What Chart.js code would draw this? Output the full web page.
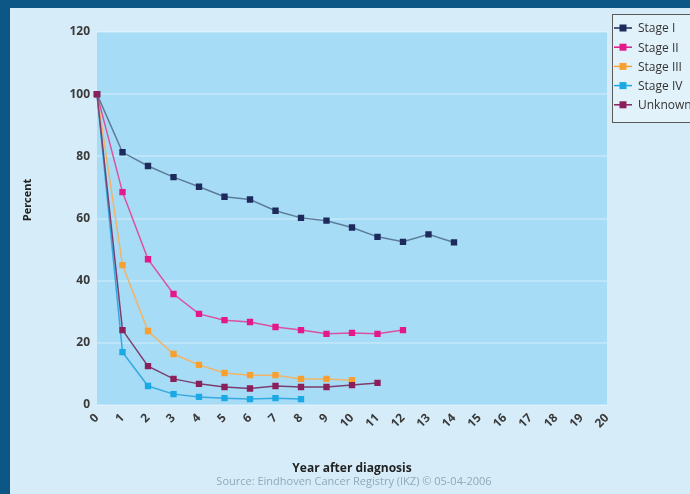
<!DOCTYPE html>
<html>
<head>
<meta charset="utf-8">
<script src="https://cdn.jsdelivr.net/npm/chart.js@4/dist/chart.umd.min.js"></script>
<style>
   html, body { margin: 0; padding: 0; }
   body { width: 690px; height: 494px; background: #0c5786; position: relative; overflow: hidden; }
   #chart { position: absolute; left: 10px; top: 8px; background: #d6edf9; }
</style>
</head>
<body>
<canvas id="chart" width="680" height="486"></canvas>
<script>
const YEARS = ["0", "1", "2", "3", "4", "5", "6", "7", "8", "9", "10", "11", "12", "13", "14", "15", "16", "17", "18", "19", "20"];
const STAGE_I = [100, 81.3, 76.9, 73.3, 70.2, 67.0, 66.1, 62.5, 60.2, 59.3, 57.1, 54.1, 52.5, 54.9, 52.3];
const STAGE_II = [100, 68.5, 46.9, 35.7, 29.3, 27.3, 26.7, 25.1, 24.1, 22.9, 23.2, 22.9, 24.1];
const STAGE_III = [100, 45.0, 23.8, 16.4, 12.9, 10.3, 9.6, 9.6, 8.4, 8.4, 8.0];
const STAGE_IV = [100, 17.0, 6.1, 3.5, 2.6, 2.2, 1.9, 2.2, 1.9];
const UNKNOWN = [100, 24.1, 12.5, 8.4, 6.8, 5.8, 5.3, 6.1, 5.8, 5.8, 6.4, 7.1];
const SERIES_NAMES = ["Stage I", "Stage II", "Stage III", "Stage IV", "Unknown"];
const Y_TITLE = "Percent";
const SOURCE = "Source: Eindhoven Cancer Registry (IKZ) \u00a9 05-04-2006";

const FONT = "'Open Sans', 'Noto Sans', sans-serif";

const makeSet = (label, data, line, mark, order) => ({
   label,
   data,
   borderColor: line,
   borderWidth: 1.5,
   pointStyle: "rect",
   pointRadius: 4.5,
   pointBackgroundColor: mark,
   pointBorderColor: mark,
   pointBorderWidth: 0,
   tension: 0,
   fill: false,
   order,
   markColor: mark,
});

// plot background
const plotBg = {
   id: "plotBg",
   beforeDraw(chart) {
      const { ctx, chartArea: a } = chart;
      ctx.save();
      ctx.fillStyle = "#a7dcf7";
      ctx.fillRect(a.left, a.top, a.right - a.left, a.bottom - a.top);
      ctx.restore();
   },
};

// boxed legend at top right (cut by the right edge like the original), y title and source line
const extras = {
   id: "extras",
   afterDraw(chart) {
      const ctx = chart.ctx;
      ctx.save();
      ctx.fillStyle = "#e2f2fb";
      ctx.strokeStyle = "#5a5a5a";
      ctx.lineWidth = 1;
      ctx.fillRect(602.5, 6.5, 100, 108);
      ctx.strokeRect(602.5, 6.5, 100, 108);
      ctx.font = "12px " + FONT;
      ctx.textBaseline = "middle";
      chart.data.datasets.forEach((ds, i) => {
         const y = 20 + i * 19.2;
         ctx.strokeStyle = ds.markColor;
         ctx.lineWidth = 1.5;
         ctx.beginPath();
         ctx.moveTo(604, y);
         ctx.lineTo(622, y);
         ctx.stroke();
         ctx.fillStyle = ds.markColor;
         ctx.fillRect(609.5, y - 3.5, 7, 7);
         ctx.fillStyle = "#333";
         ctx.fillText(ds.label, 628, y + 1);
      });

      ctx.textAlign = "center";
      ctx.fillStyle = "#8fa9ba";
      ctx.font = "11px " + FONT;
      ctx.fillText(SOURCE, 344, 474);

      ctx.translate(18, 192);
      ctx.rotate(-Math.PI / 2);
      ctx.fillStyle = "#222";
      ctx.font = "bold 11px " + FONT;
      ctx.fillText(Y_TITLE, 0, 0);
      ctx.restore();
   },
};

new Chart(document.getElementById("chart").getContext("2d"), {
   type: "line",
   data: {
      labels: YEARS,
      datasets: [
         makeSet(SERIES_NAMES[0], STAGE_I, "#5c7d9a", "#1d2a5c", 1),
         makeSet(SERIES_NAMES[1], STAGE_II, "#d9529f", "#e3188b", 2),
         makeSet(SERIES_NAMES[2], STAGE_III, "#f1b468", "#f7a030", 3),
         makeSet(SERIES_NAMES[3], STAGE_IV, "#35aae0", "#1ba9e5", 4),
         makeSet(SERIES_NAMES[4], UNKNOWN, "#7b3e6e", "#8a1f5b", 0),
      ],
   },
   options: {
      responsive: false,
      animation: false,
      layout: { padding: { left: 0, top: 24, right: 83, bottom: 0 } },
      scales: {
         x: {
            offset: false,
            grid: { display: false, drawTicks: false },
            border: { display: false },
            ticks: {
               minRotation: 45,
               maxRotation: 45,
               autoSkip: false,
               padding: 6,
               color: "#3a3a3a",
               font: { family: FONT, size: 12, weight: "bold" },
            },
            title: {
               display: true,
               text: "Year after diagnosis",
               color: "#222",
               padding: { top: 0, bottom: 18 },
               font: { family: FONT, size: 12, weight: "bold" },
            },
            afterFit: (scale) => {
               scale.height = 89;
            },
         },
         y: {
            min: 0,
            max: 120,
            grid: { color: "rgba(255, 255, 255, 0.25)", lineWidth: 2, drawTicks: false },
            border: { display: false },
            ticks: {
               stepSize: 20,
               padding: 7,
               color: "#3a3a3a",
               font: { family: FONT, size: 12, weight: "bold" },
            },
            afterFit: (scale) => {
               scale.width = 87;
            },
         },
      },
      plugins: {
         legend: { display: false },
         tooltip: { enabled: false },
         title: { display: false },
      },
   },
   plugins: [plotBg, extras],
});
</script>
</body>
</html>
